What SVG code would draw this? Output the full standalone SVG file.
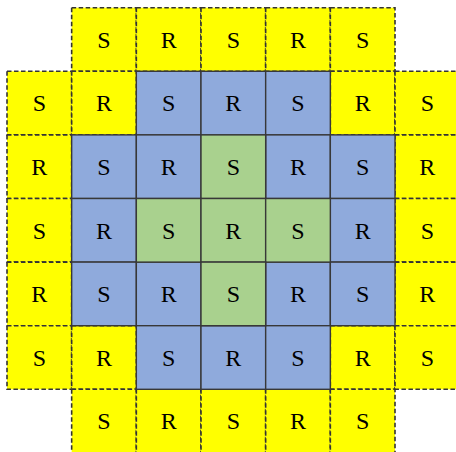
<svg xmlns="http://www.w3.org/2000/svg" width="456" height="452" viewBox="0 0 456 452">
<style>
rect{stroke:#383838;stroke-width:1.4}
.y{fill:#FFFF00;stroke:#333;stroke-width:1.6;stroke-dasharray:4.5,2.5}
.b{fill:#8FAADC}
.g{fill:#A9D18E}
text{font-family:"Liberation Serif","Times New Roman",serif;font-size:24px;fill:#000;text-anchor:middle}
</style>
<g id="yellow">
<g id="r0c1"><rect class="y" x="71.67" y="7.7" width="64.67" height="63.6"/><text x="104" y="47.8">S</text></g>
<g id="r0c2"><rect class="y" x="136.33" y="7.7" width="64.67" height="63.6"/><text x="168.67" y="47.8">R</text></g>
<g id="r0c3"><rect class="y" x="201" y="7.7" width="64.67" height="63.6"/><text x="233.33" y="47.8">S</text></g>
<g id="r0c4"><rect class="y" x="265.67" y="7.7" width="64.67" height="63.6"/><text x="298" y="47.8">R</text></g>
<g id="r0c5"><rect class="y" x="330.33" y="7.7" width="64.67" height="63.6"/><text x="362.67" y="47.8">S</text></g>
<g id="r1c0"><rect class="y" x="7" y="71.3" width="64.67" height="63.6"/><text x="39.33" y="111.4">S</text></g>
<g id="r1c1"><rect class="y" x="71.67" y="71.3" width="64.67" height="63.6"/><text x="104" y="111.4">R</text></g>
<g id="r1c5"><rect class="y" x="330.33" y="71.3" width="64.67" height="63.6"/><text x="362.67" y="111.4">R</text></g>
<g id="r1c6"><rect class="y" x="395" y="71.3" width="64.67" height="63.6"/><text x="427.33" y="111.4">S</text></g>
<g id="r2c0"><rect class="y" x="7" y="134.9" width="64.67" height="63.6"/><text x="39.33" y="175">R</text></g>
<g id="r2c6"><rect class="y" x="395" y="134.9" width="64.67" height="63.6"/><text x="427.33" y="175">R</text></g>
<g id="r3c0"><rect class="y" x="7" y="198.5" width="64.67" height="63.6"/><text x="39.33" y="238.6">S</text></g>
<g id="r3c6"><rect class="y" x="395" y="198.5" width="64.67" height="63.6"/><text x="427.33" y="238.6">S</text></g>
<g id="r4c0"><rect class="y" x="7" y="262.1" width="64.67" height="63.6"/><text x="39.33" y="302.2">R</text></g>
<g id="r4c6"><rect class="y" x="395" y="262.1" width="64.67" height="63.6"/><text x="427.33" y="302.2">R</text></g>
<g id="r5c0"><rect class="y" x="7" y="325.7" width="64.67" height="63.6"/><text x="39.33" y="365.8">S</text></g>
<g id="r5c1"><rect class="y" x="71.67" y="325.7" width="64.67" height="63.6"/><text x="104" y="365.8">R</text></g>
<g id="r5c5"><rect class="y" x="330.33" y="325.7" width="64.67" height="63.6"/><text x="362.67" y="365.8">R</text></g>
<g id="r5c6"><rect class="y" x="395" y="325.7" width="64.67" height="63.6"/><text x="427.33" y="365.8">S</text></g>
<g id="r6c1"><rect class="y" x="71.67" y="389.3" width="64.67" height="63.6"/><text x="104" y="429.4">S</text></g>
<g id="r6c2"><rect class="y" x="136.33" y="389.3" width="64.67" height="63.6"/><text x="168.67" y="429.4">R</text></g>
<g id="r6c3"><rect class="y" x="201" y="389.3" width="64.67" height="63.6"/><text x="233.33" y="429.4">S</text></g>
<g id="r6c4"><rect class="y" x="265.67" y="389.3" width="64.67" height="63.6"/><text x="298" y="429.4">R</text></g>
<g id="r6c5"><rect class="y" x="330.33" y="389.3" width="64.67" height="63.6"/><text x="362.67" y="429.4">S</text></g>
</g>
<g id="blue">
<g id="r1c2"><rect class="b" x="136.33" y="71.3" width="64.67" height="63.6"/><text x="168.67" y="111.4">S</text></g>
<g id="r1c3"><rect class="b" x="201" y="71.3" width="64.67" height="63.6"/><text x="233.33" y="111.4">R</text></g>
<g id="r1c4"><rect class="b" x="265.67" y="71.3" width="64.67" height="63.6"/><text x="298" y="111.4">S</text></g>
<g id="r2c1"><rect class="b" x="71.67" y="134.9" width="64.67" height="63.6"/><text x="104" y="175">S</text></g>
<g id="r2c2"><rect class="b" x="136.33" y="134.9" width="64.67" height="63.6"/><text x="168.67" y="175">R</text></g>
<g id="r2c4"><rect class="b" x="265.67" y="134.9" width="64.67" height="63.6"/><text x="298" y="175">R</text></g>
<g id="r2c5"><rect class="b" x="330.33" y="134.9" width="64.67" height="63.6"/><text x="362.67" y="175">S</text></g>
<g id="r3c1"><rect class="b" x="71.67" y="198.5" width="64.67" height="63.6"/><text x="104" y="238.6">R</text></g>
<g id="r3c5"><rect class="b" x="330.33" y="198.5" width="64.67" height="63.6"/><text x="362.67" y="238.6">R</text></g>
<g id="r4c1"><rect class="b" x="71.67" y="262.1" width="64.67" height="63.6"/><text x="104" y="302.2">S</text></g>
<g id="r4c2"><rect class="b" x="136.33" y="262.1" width="64.67" height="63.6"/><text x="168.67" y="302.2">R</text></g>
<g id="r4c4"><rect class="b" x="265.67" y="262.1" width="64.67" height="63.6"/><text x="298" y="302.2">R</text></g>
<g id="r4c5"><rect class="b" x="330.33" y="262.1" width="64.67" height="63.6"/><text x="362.67" y="302.2">S</text></g>
<g id="r5c2"><rect class="b" x="136.33" y="325.7" width="64.67" height="63.6"/><text x="168.67" y="365.8">S</text></g>
<g id="r5c3"><rect class="b" x="201" y="325.7" width="64.67" height="63.6"/><text x="233.33" y="365.8">R</text></g>
<g id="r5c4"><rect class="b" x="265.67" y="325.7" width="64.67" height="63.6"/><text x="298" y="365.8">S</text></g>
</g>
<g id="green">
<g id="r2c3"><rect class="g" x="201" y="134.9" width="64.67" height="63.6"/><text x="233.33" y="175">S</text></g>
<g id="r3c2"><rect class="g" x="136.33" y="198.5" width="64.67" height="63.6"/><text x="168.67" y="238.6">S</text></g>
<g id="r3c3"><rect class="g" x="201" y="198.5" width="64.67" height="63.6"/><text x="233.33" y="238.6">R</text></g>
<g id="r3c4"><rect class="g" x="265.67" y="198.5" width="64.67" height="63.6"/><text x="298" y="238.6">S</text></g>
<g id="r4c3"><rect class="g" x="201" y="262.1" width="64.67" height="63.6"/><text x="233.33" y="302.2">S</text></g>
</g>
</svg>
